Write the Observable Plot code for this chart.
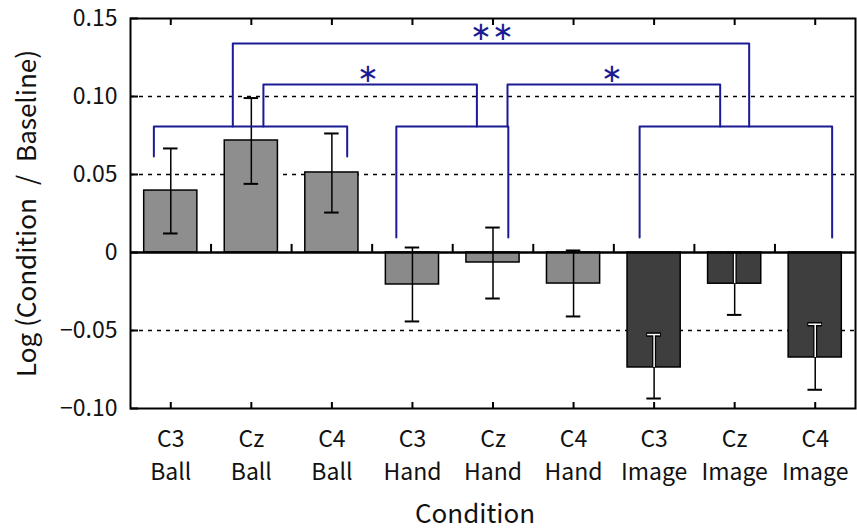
<!DOCTYPE html>
<html>
<head>
<meta charset="utf-8">
<script src="https://cdn.jsdelivr.net/npm/d3@7"></script>
<script src="https://cdn.jsdelivr.net/npm/@observablehq/plot@0.6"></script>
<style>
  html, body { margin: 0; padding: 0; background: #fff; }
  #chart { width: 857px; height: 529px; }
</style>
</head>
<body>
<div id="chart"></div>
<script>
// ---- data ----
const electrodes = ["C3", "Cz", "C4", "C3", "Cz", "C4", "C3", "Cz", "C4"];
const tasks = ["Ball", "Ball", "Ball", "Hand", "Hand", "Hand", "Image", "Image", "Image"];
const means = [0.0397, 0.0718, 0.0513, -0.0205, -0.0064, -0.0199, -0.0737, -0.0200, -0.0673];
const errHigh = [0.0667, 0.0990, 0.0763, 0.0032, 0.0160, 0.0013, -0.0526, 0.0000, -0.0460];
const errLow = [0.0122, 0.0440, 0.0256, -0.0442, -0.0295, -0.0410, -0.0936, -0.0400, -0.0880];

const yTicks = [0.15, 0.10, 0.05, 0, -0.05, -0.10];
const yTickLabels = ["0.15", "0.10", "0.05", "0", "\u22120.05", "\u22120.10"];
const gridValues = [0.10, 0.05, -0.05];

// significance brackets: x positions (in category index units), top level and leg ends
const bracketX1 = [-0.21, 2.80, 5.82, 1.15, 4.18, 0.77];
const bracketX2 = [2.19, 4.19, 8.21, 3.80, 6.82, 7.18];
const bracketTop = [0.0808, 0.0808, 0.0808, 0.1077, 0.1077, 0.134];
const bracketLeg1 = [0.0615, 0.0096, 0.0096, 0.0808, 0.0808, 0.0808];
const bracketLeg2 = [0.0615, 0.0096, 0.0096, 0.0808, 0.0808, 0.0808];
const starText = ["\u2217", "\u2217", "\u2217\u2217"];
const starX = [2.45, 5.48, 3.99];
const starY = [0.1147, 0.1147, 0.1415];

// ---- build tables ----
const bars = means.map((v, i) => ({
  i, electrode: electrodes[i], task: tasks[i], v, hi: errHigh[i], lo: errLow[i]
}));
const brackets = [];
bracketX1.forEach((x1, k) => {
  brackets.push({k, x: x1, y: bracketLeg1[k]});
  brackets.push({k, x: x1, y: bracketTop[k]});
  brackets.push({k, x: bracketX2[k], y: bracketTop[k]});
  brackets.push({k, x: bracketX2[k], y: bracketLeg2[k]});
});
const stars = starText.map((t, k) => ({t, x: starX[k], y: starY[k]}));
const idx = bars.map(d => d.i);
const between = idx.slice(1).map(i => i - 0.5);

const fillOf = {Ball: "#8e8e8e", Hand: "#8a8a8a", Image: "#3e3e3e"};
const blue = "#1b1b94";
const font = "'Noto Sans CJK JP', 'Noto Sans', sans-serif";
const halfBar = 0.33, halfCap = 0.09;
const images = bars.filter(d => d.task === "Image");

const chart = Plot.plot({
  width: 857,
  height: 529,
  marginTop: 18,
  marginBottom: 121,
  marginLeft: 130,
  marginRight: 2,
  style: {fontFamily: font, background: "#fff"},
  x: {type: "linear", domain: [-0.5, 8.5], axis: null},
  y: {domain: [-0.10, 0.15], axis: null},
  marks: [
    Plot.ruleY(gridValues, {stroke: "#000", strokeWidth: 1.5, strokeDasharray: "4,5"}),
    Plot.rectY(bars, {
      x1: d => d.i - halfBar, x2: d => d.i + halfBar, y1: 0, y2: "v",
      fill: d => fillOf[d.task], stroke: "#000", strokeWidth: 1.5
    }),
    // error bars
    Plot.ruleX(bars, {x: "i", y1: "lo", y2: "hi", stroke: "#000", strokeWidth: 1.5}),
    Plot.ruleY(bars, {y: "hi", x1: d => d.i - halfCap, x2: d => d.i + halfCap, stroke: "#000", strokeWidth: 2}),
    Plot.ruleY(bars, {y: "lo", x1: d => d.i - halfCap, x2: d => d.i + halfCap, stroke: "#000", strokeWidth: 2}),
    // white parts inside dark bars
    Plot.ruleX(images, {x: "i", y1: "v", y2: d => Math.min(d.hi, -0.0008), stroke: "#000", strokeWidth: 4}),
    Plot.ruleY(images.filter(d => d.hi < 0), {y: "hi", x1: d => d.i - halfCap, x2: d => d.i + halfCap, stroke: "#000", strokeWidth: 4.5}),
    Plot.ruleX(images, {x: "i", y1: "v", y2: d => Math.min(d.hi, -0.0008), stroke: "#fff", strokeWidth: 1.5}),
    Plot.ruleY(images.filter(d => d.hi < 0), {y: "hi", x1: d => d.i - halfCap + 0.01, x2: d => d.i + halfCap - 0.01, stroke: "#fff", strokeWidth: 1.5}),
    // zero line and small ticks on it
    Plot.ruleY([0], {stroke: "#000", strokeWidth: 2.5}),
    Plot.ruleX(between, {x: d => d, y1: 0, y2: 0.0052, stroke: "#000", strokeWidth: 2}),
    // brackets
    Plot.line(brackets, {x: "x", y: "y", z: "k", stroke: blue, strokeWidth: 2, curve: "linear"}),
    Plot.text(stars, {x: "x", y: "y", text: "t", fill: blue, fontSize: 26, lineAnchor: "middle"}),
    // frame and inward ticks
    Plot.frame({stroke: "#000", strokeWidth: 2}),
    Plot.axisX(idx, {anchor: "bottom", tickSize: -6, tickFormat: () => "", strokeWidth: 2}),
    Plot.axisX(idx, {anchor: "top", tickSize: -6, tickFormat: () => "", strokeWidth: 2}),
    Plot.axisY(yTicks, {anchor: "left", tickSize: -8, tickFormat: () => "", strokeWidth: 2}),
    // tick labels
    Plot.text(bars, {x: "i", frameAnchor: "bottom", text: d => d.electrode + "\n" + d.task,
      lineAnchor: "top", dy: 16, fontSize: 23, lineHeight: 1.4, fill: "#111"}),
    Plot.text(yTicks, {y: d => d, text: (d, k) => yTickLabels[k], frameAnchor: "left",
      textAnchor: "end", dx: -13, fontSize: 23, fill: "#111"}),
    // axis titles
    Plot.text(["Log (Condition\u2002/\u2002Baseline)"], {frameAnchor: "left", textAnchor: "middle", rotate: -90, dx: -103,
      fontSize: 26, fill: "#111", text: d => d}),
    Plot.text(["Condition"], {frameAnchor: "bottom", dy: 106, dx: -18, lineAnchor: "middle",
      fontSize: 26, fill: "#111", text: d => d})
  ]
});
document.getElementById("chart").appendChild(chart);
</script>
</body>
</html>
